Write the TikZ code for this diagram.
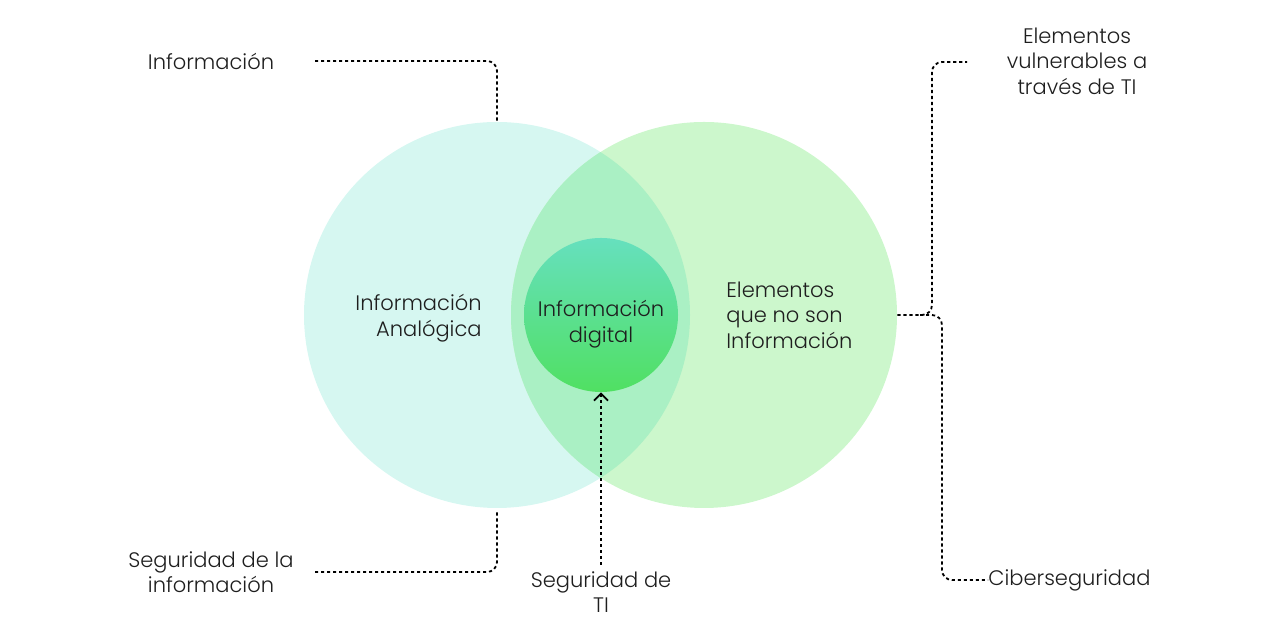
\documentclass[tikz,border=0pt]{standalone}
\usepackage{fontspec}
\setmainfont{Poppins}[UprightFont={* Light}]
\usetikzlibrary{arrows.meta, positioning}

\definecolor{leftfill}{HTML}{D6F7F1}
\definecolor{rightfill}{HTML}{CCF7CC}
\definecolor{midfill}{HTML}{AAF0C4}
\definecolor{digtop}{HTML}{66E0BE}
\definecolor{digbot}{HTML}{50E062}
\definecolor{txt}{HTML}{1E1E1E}

\tikzset{
  set/.style={circle, inner sep=0pt, minimum size=193pt},
  lbl/.style={font=\fontsize{10.5}{12.75}\selectfont, text=txt, inner sep=0pt},
  conn/.style={line width=0.9pt, dash pattern=on 1.6pt off 1.4pt, rounded corners=5pt}
}

\begin{document}
\begin{tikzpicture}[x=0.5pt, y=0.5pt]
            \useasboundingbox (0,0) rectangle (1280,640);
            % the two sets
            \node[set, fill=leftfill] (analog) at (497,325) {};
            \node[set, fill=rightfill] (other) at (704,325) {};
            \begin{scope}
                \clip (497,325) circle[radius=96.5pt];
                \fill[midfill] (704,325) circle[radius=96.5pt];
            \end{scope}
            \node[circle, inner sep=0pt, minimum size=77pt, top color=digtop, bottom color=digbot] (digital) at (601,325) {};
            % texts inside
            \node[lbl, align=right, anchor=east] (analogtxt) at (482,322) {Información\\Analógica};
            \node[lbl, align=center] (digitaltxt) at (601,316) {Información\\digital};
            \node[lbl, align=left, anchor=west] (othertxt) at (726,325) {Elementos\\que no son\\Información};
            % outside labels
            \node[lbl] (info) at (211,579) {Información};
            \node[lbl, align=center] (seginfo) at (211,68) {Seguridad de la\\información};
            \node[lbl, align=center] (segti) at (601,48) {Seguridad de\\TI};
            \node[lbl, align=center] (vuln) at (1077,579) {Elementos\\vulnerables a\\través de TI};
            \node[lbl, anchor=west] (ciber) at (988,60) {Ciberseguridad};
            % connectors
            \coordinate (infoend) at (315,579);
            \coordinate (seginfoend) at (315,68);
            \coordinate (vulnend) at (967,578);
            \coordinate (fork) at (920,325);
            \draw[conn] (infoend) -| (analog.north);
            \draw[conn] (seginfoend) -| ([yshift=-1.5pt]analog.south);
            \draw[conn, -{Straight Barb[length=3.5pt, width=7pt]}] ([yshift=3pt]segti.north) -- (digital.south);
            \draw[conn] (other.east) -| (932,440) |- (vulnend);
            \draw[conn] (fork) -| (942,200) |- (ciber.west);
        \end{tikzpicture}
\end{document}
